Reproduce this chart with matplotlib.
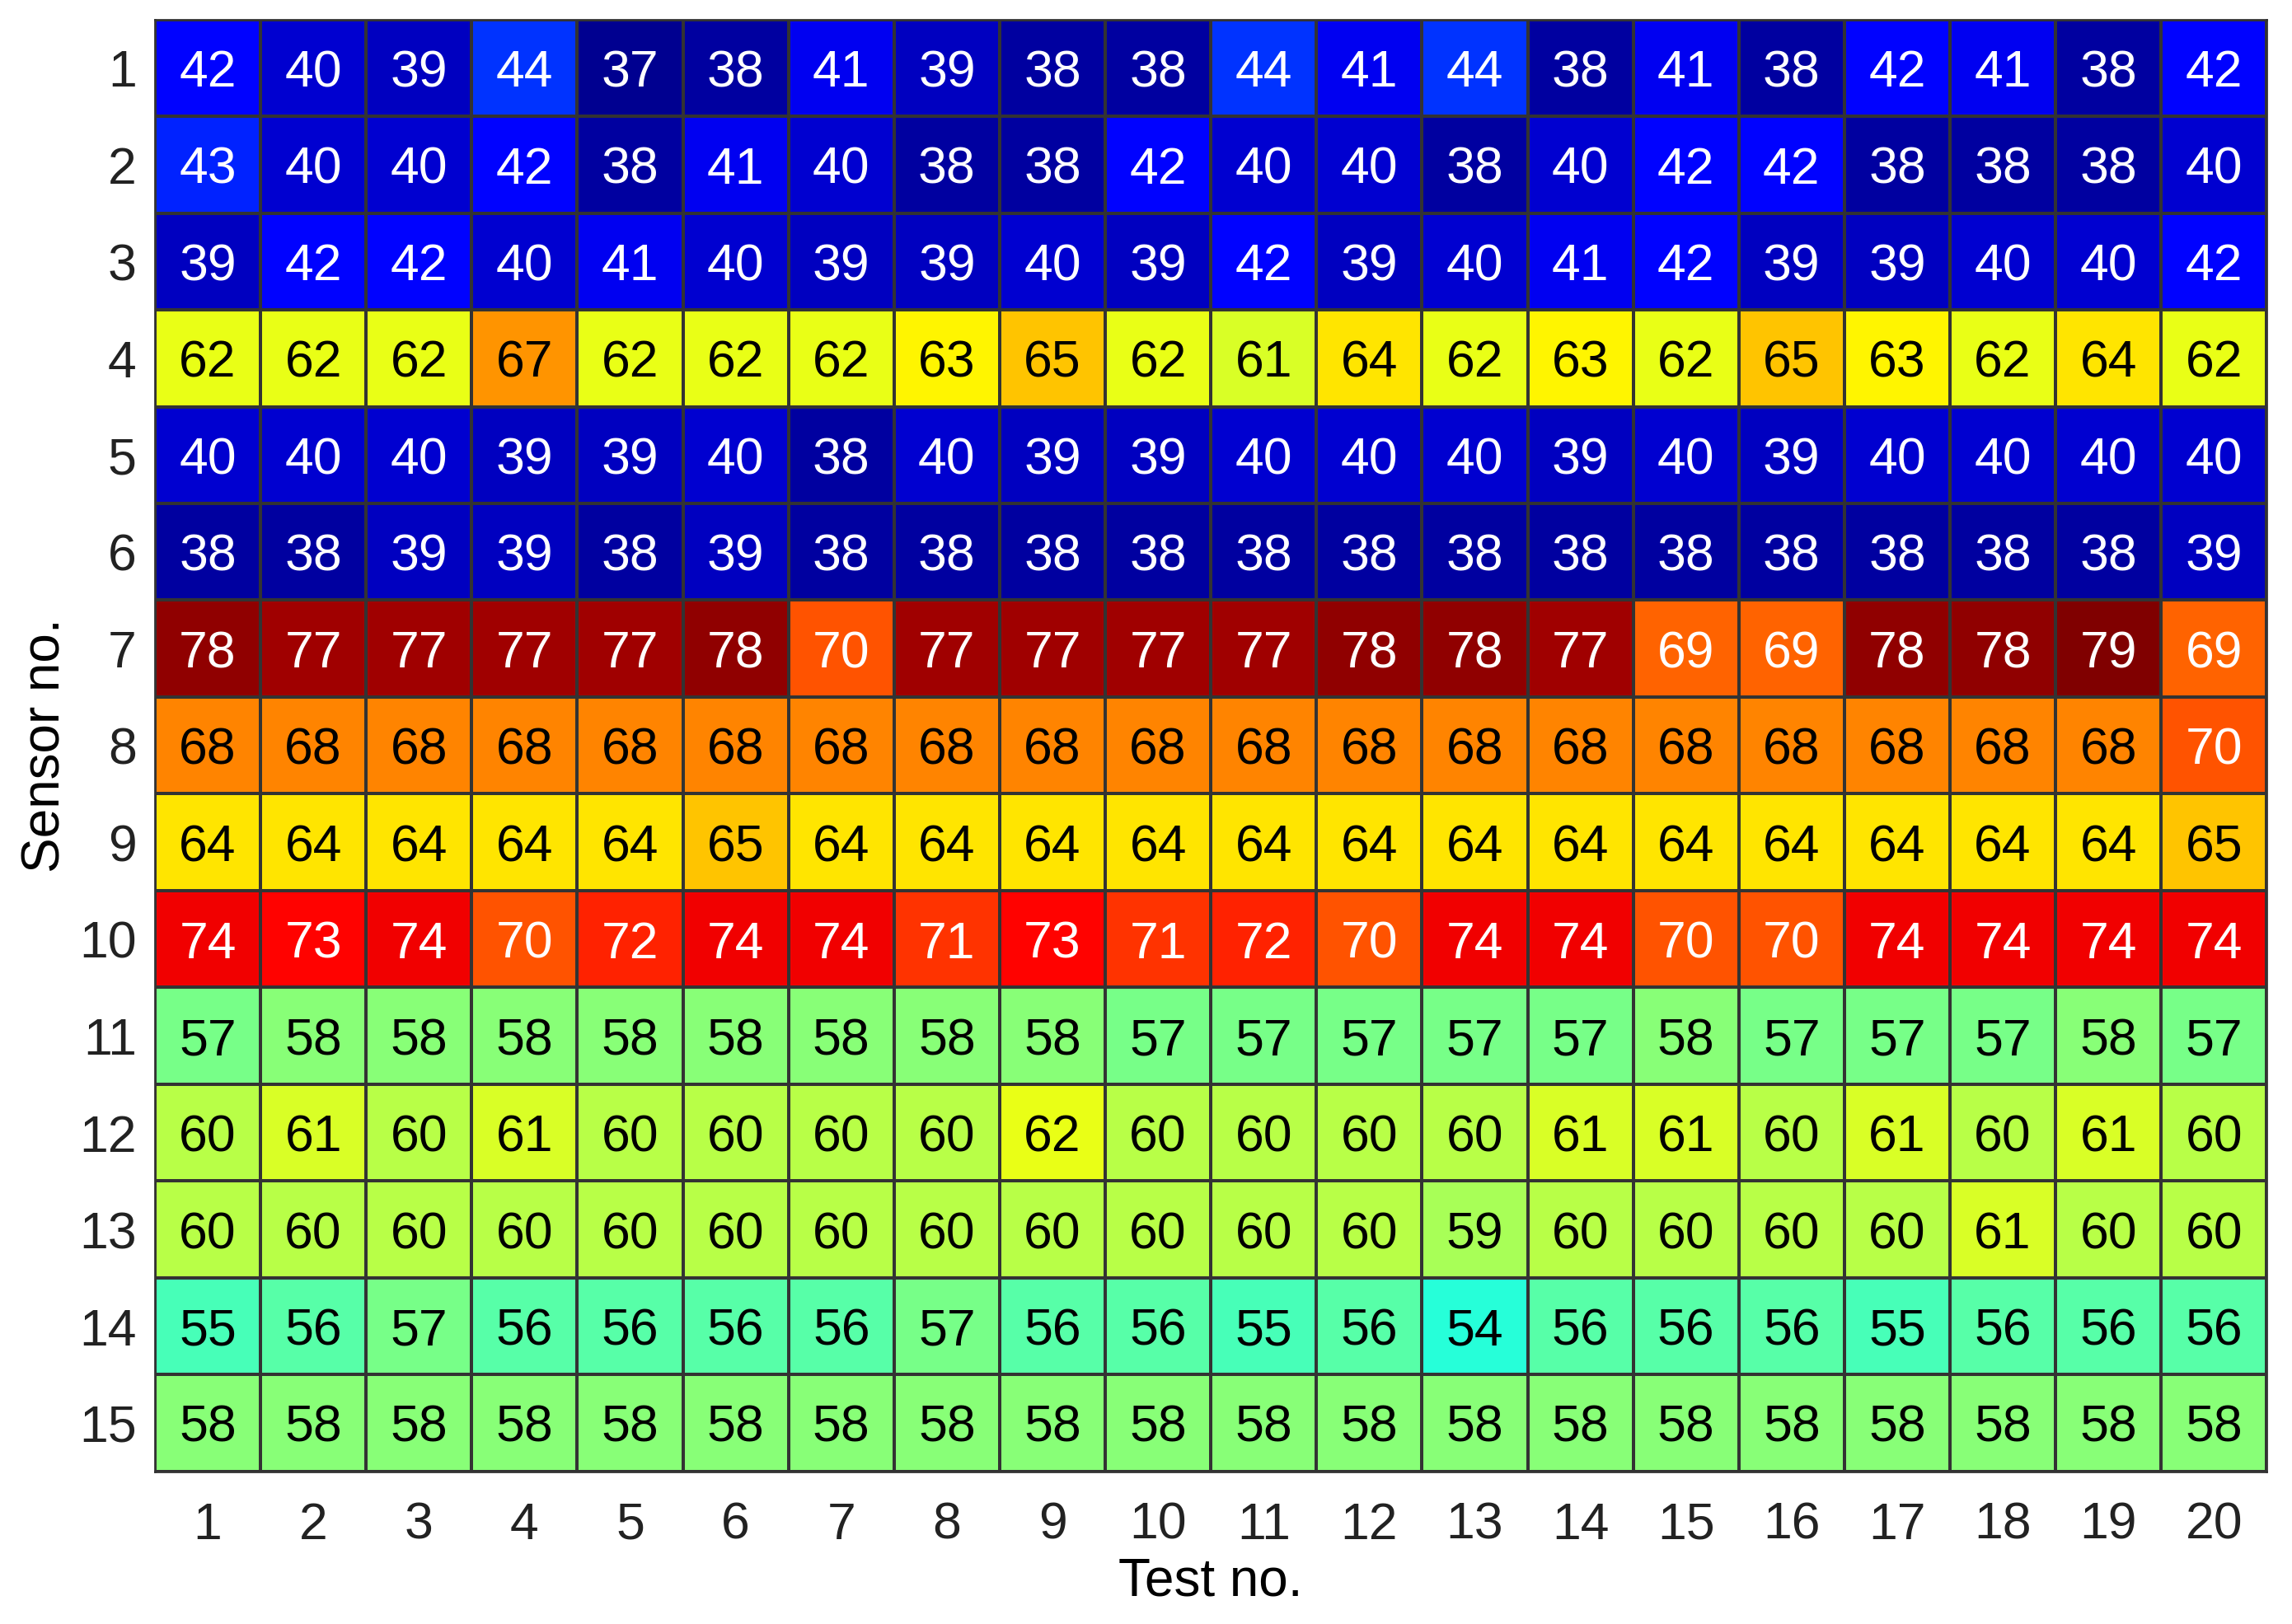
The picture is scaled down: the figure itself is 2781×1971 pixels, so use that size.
import numpy as np
import matplotlib
matplotlib.use("Agg")
import matplotlib.pyplot as plt
from matplotlib.colors import ListedColormap

plt.rcParams['font.family'] = ['Liberation Sans', 'DejaVu Sans']

tests = list(range(1, 21))
sensors = list(range(1, 16))

# temperature per sensor (rows) and test (columns)
s1 = [42, 40, 39, 44, 37, 38, 41, 39, 38, 38, 44, 41, 44, 38, 41, 38, 42, 41, 38, 42]
s2 = [43, 40, 40, 42, 38, 41, 40, 38, 38, 42, 40, 40, 38, 40, 42, 42, 38, 38, 38, 40]
s3 = [39, 42, 42, 40, 41, 40, 39, 39, 40, 39, 42, 39, 40, 41, 42, 39, 39, 40, 40, 42]
s4 = [62, 62, 62, 67, 62, 62, 62, 63, 65, 62, 61, 64, 62, 63, 62, 65, 63, 62, 64, 62]
s5 = [40, 40, 40, 39, 39, 40, 38, 40, 39, 39, 40, 40, 40, 39, 40, 39, 40, 40, 40, 40]
s6 = [38, 38, 39, 39, 38, 39, 38, 38, 38, 38, 38, 38, 38, 38, 38, 38, 38, 38, 38, 39]
s7 = [78, 77, 77, 77, 77, 78, 70, 77, 77, 77, 77, 78, 78, 77, 69, 69, 78, 78, 79, 69]
s8 = [68, 68, 68, 68, 68, 68, 68, 68, 68, 68, 68, 68, 68, 68, 68, 68, 68, 68, 68, 70]
s9 = [64, 64, 64, 64, 64, 65, 64, 64, 64, 64, 64, 64, 64, 64, 64, 64, 64, 64, 64, 65]
s10 = [74, 73, 74, 70, 72, 74, 74, 71, 73, 71, 72, 70, 74, 74, 70, 70, 74, 74, 74, 74]
s11 = [57, 58, 58, 58, 58, 58, 58, 58, 58, 57, 57, 57, 57, 57, 58, 57, 57, 57, 58, 57]
s12 = [60, 61, 60, 61, 60, 60, 60, 60, 62, 60, 60, 60, 60, 61, 61, 60, 61, 60, 61, 60]
s13 = [60, 60, 60, 60, 60, 60, 60, 60, 60, 60, 60, 60, 59, 60, 60, 60, 60, 61, 60, 60]
s14 = [55, 56, 57, 56, 56, 56, 56, 57, 56, 56, 55, 56, 54, 56, 56, 56, 55, 56, 56, 56]
s15 = [58, 58, 58, 58, 58, 58, 58, 58, 58, 58, 58, 58, 58, 58, 58, 58, 58, 58, 58, 58]

data = np.array([s1, s2, s3, s4, s5, s6, s7, s8, s9, s10, s11, s12, s13, s14, s15])

# MATLAB style jet with 64 levels
t = np.linspace(0, 1, 64)
r = np.clip(1.5 - np.abs(4 * t - 3), 0, 1)
g = np.clip(1.5 - np.abs(4 * t - 2), 0, 1)
b = np.clip(1.5 - np.abs(4 * t - 1), 0, 1)
jet64 = ListedColormap(np.column_stack([r, g, b]))

fig = plt.figure(figsize=(27.81, 19.71), dpi=100)
ax = fig.add_axes([0.0676, 0.094, 0.9214, 0.894])

x_edges = np.arange(0.5, len(tests) + 1, 1)
y_edges = np.arange(0.5, len(sensors) + 1, 1)
ax.pcolormesh(x_edges, y_edges, data, cmap=jet64, vmin=36.3, vmax=79,
              edgecolors='#333333', linewidth=1.5)

for i, sen in enumerate(sensors):
    for j, tst in enumerate(tests):
        v = data[i, j]
        col = 'white' if (v <= 44 or v >= 69) else 'black'
        ax.text(tst, sen, str(v), ha='center', va='center_baseline', fontsize=45, color=col)

ax.set_xlim(0.5, len(tests) + 0.5)
ax.set_ylim(len(sensors) + 0.5, 0.5)
ax.set_xticks(tests)
ax.set_yticks(sensors)
ax.tick_params(length=0, labelsize=45, colors='#222222')
ax.tick_params(axis='x', pad=26)
ax.tick_params(axis='y', pad=16)
ax.set_xlabel('Test no.', fontsize=46, labelpad=6)
ax.set_ylabel('Sensor no.', fontsize=46, labelpad=8)
for sp in ax.spines.values():
    sp.set_color('#333333')
    sp.set_linewidth(2)

plt.savefig('out.png', dpi=100)
plt.close()
